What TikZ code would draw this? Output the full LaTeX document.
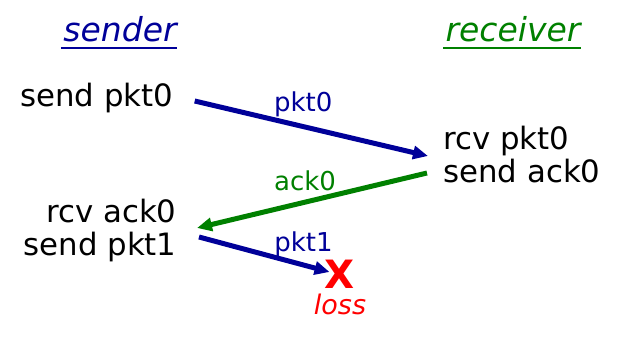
\documentclass[tikz,border=0pt]{standalone}
\usepackage{fontspec}
\setmainfont{DejaVu Sans}
\usetikzlibrary{
  positioning,
  arrows.meta,
  calc,
}
\definecolor{pktBlue}{HTML}{000099}
\definecolor{ackGreen}{HTML}{008000}
\definecolor{lossRed}{HTML}{FF0000}
\tikzset{
  side/.style={font=\fontsize{16.5}{20}\selectfont\itshape, inner sep=0pt},
  event/.style={font=\fontsize{15.4}{18}\selectfont, inner sep=0pt, text=black},
  msg/.style={-{Triangle[length=7.5pt, width=6.5pt]}, line width=2.5pt},
  msglabel/.style={font=\fontsize{13}{15}\selectfont, inner sep=0pt},
}

\begin{document}
\begin{tikzpicture}[x=0.5pt, y=-0.5pt]
  \useasboundingbox (0,0) rectangle (644,342);

  % Sides
  \node[side, text=pktBlue, anchor=base] (sndr) at (120,42) {sender};
  \node[side, text=ackGreen, anchor=base] (rcvr) at (513,42) {receiver};
  \draw[pktBlue, line width=1.4pt] ($(sndr.base west)+(-2,6)$) -- ($(sndr.base east)+(0,6)$);
  \draw[ackGreen, line width=1.4pt] ($(rcvr.base west)+(-2,6)$) -- ($(rcvr.base east)+(0,6)$);

  % Events
  \node[event, anchor=base west] (sendpkt0) at (20,107) {send pkt0};
  \node[event, anchor=base west] (rcvpkt0) at (443,150) {rcv pkt0};
  \node[event, anchor=base west] (sendack0) at (443,183) {send ack0};
  \node[event, anchor=base east] (rcvack0) at (177,223) {rcv ack0};
  \node[event, anchor=base east] (sendpkt1) at (177,256) {send pkt1};

  % Loss
  \node[font=\fontsize{19.5}{22}\selectfont\bfseries, text=lossRed, inner sep=0pt] (lossx) at (340,274) {X};
  \node[msglabel, font=\fontsize{13.5}{15}\selectfont\itshape, text=lossRed, below=2.5pt of lossx] (loss) {loss};

  % Messages
  \draw[msg, pktBlue] ($(sendpkt0.base east)+(21,-6)$) -- node[msglabel, text=pktBlue, pos=0.465, above=3.8pt] (lblpkt0) {pkt0} ($(rcvpkt0.base west)+(-15,6)$);
  \draw[msg, ackGreen] ($(sendack0.base west)+(-16,-10)$) -- node[msglabel, text=ackGreen, pos=0.53, above=4.5pt] (lblack0) {ack0} ($(rcvack0.base east)+(20,5)$);
  \draw[msg, pktBlue] ($(sendpkt1.base east)+(22,-19)$) -- node[msglabel, text=pktBlue, pos=0.8, above=3pt] (lblpkt1) {pkt1} ($(lossx.west)+(5,-2)$);

\end{tikzpicture}
\end{document}
